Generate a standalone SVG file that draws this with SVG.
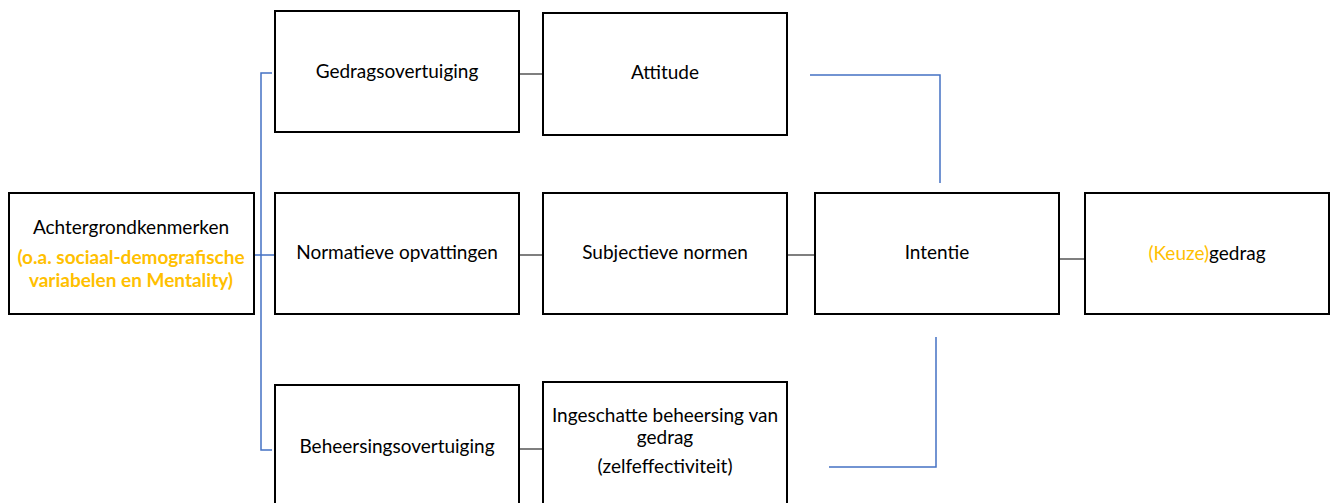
<svg xmlns="http://www.w3.org/2000/svg" width="1338" height="503" viewBox="0 0 1338 503">
<style>
.box{fill:#fff;stroke:#000;stroke-width:2}
.t{font-family:Lato,"Open Sans",sans-serif;font-size:19px;fill:#000;text-anchor:middle}
.o{fill:#FFC000;font-weight:bold}
.g{stroke:#7f7f7f;stroke-width:2;fill:none}
.b{stroke:#4472C4;stroke-width:1.5;fill:none}
</style>
<rect width="1338" height="503" fill="#fff"/>
<g id="connectors">
<path class="b" d="M272 73H261V450H272M254 255H275"/>
<path class="g" d="M519 74H543M519 255H543M519 449H543M787 255H815M1059 259H1085"/>
<path class="b" d="M810 75H940V183"/>
<path class="b" d="M936 337V467H829"/>
</g>
<g id="achtergrond">
<rect class="box" x="9" y="193" width="245" height="121"/>
<text class="t" x="131" y="234">Achtergrondkenmerken</text>
<text class="t o" x="131" y="264">(o.a. sociaal-demografische</text>
<text class="t o" x="131" y="287">variabelen en Mentality)</text>
</g>
<g id="gedragsovertuiging">
<rect class="box" x="275" y="11" width="244" height="121"/>
<text class="t" x="397" y="78">Gedragsovertuiging</text>
</g>
<g id="attitude">
<rect class="box" x="543" y="13" width="244" height="122"/>
<text class="t" x="665" y="79">Attitude</text>
</g>
<g id="normatieve">
<rect class="box" x="275" y="193" width="244" height="121"/>
<text class="t" x="397" y="259">Normatieve opvattingen</text>
</g>
<g id="subjectieve">
<rect class="box" x="543" y="193" width="244" height="121"/>
<text class="t" x="665" y="259">Subjectieve normen</text>
</g>
<g id="intentie">
<rect class="box" x="815" y="193" width="244" height="121"/>
<text class="t" x="937" y="259">Intentie</text>
</g>
<g id="gedrag">
<rect class="box" x="1085" y="193" width="244" height="121"/>
<text class="t" x="1207" y="260"><tspan fill="#FFC000">(Keuze)</tspan>gedrag</text>
</g>
<g id="beheersingsovertuiging">
<rect class="box" x="275" y="385" width="244" height="130"/>
<text class="t" x="397" y="453">Beheersingsovertuiging</text>
</g>
<g id="ingeschatte">
<rect class="box" x="543" y="382" width="244" height="133"/>
<text class="t" x="665" y="422">Ingeschatte beheersing van</text>
<text class="t" x="665" y="444">gedrag</text>
<text class="t" x="665" y="473">(zelfeffectiviteit)</text>
</g>
</svg>
